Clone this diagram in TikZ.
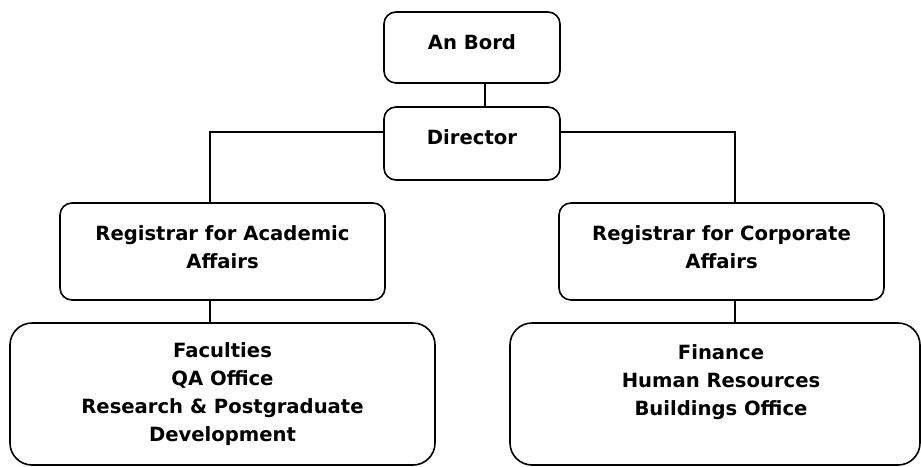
\documentclass[tikz,border=0pt]{standalone}
\usepackage{fontspec}
\setmainfont{DejaVu Sans}
\begin{document}
\begin{tikzpicture}[x=1pt,y={(0,-1pt)},
  box/.style={draw=black,line width=1.6pt,rounded corners=12pt,inner sep=0pt},
  bigbox/.style={draw=black,line width=1.6pt,rounded corners=22pt,inner sep=0pt},
  lbl/.style={align=center,inner sep=0pt,font=\bfseries\fontsize{19.6}{28}\selectfont},
  conn/.style={draw=black,line width=1.3pt}]
\useasboundingbox (0,0) rectangle (921,466);
% boxes
\node[box,minimum width=176pt,minimum height=71pt] (bord) at (472,47.5) {};
\node[box,minimum width=176pt,minimum height=73pt] (dir) at (472,143.5) {};
\node[box,minimum width=325pt,minimum height=97pt] (regA) at (222.5,251.5) {};
\node[box,minimum width=325pt,minimum height=97pt] (regC) at (721.5,251.5) {};
\node[bigbox,minimum width=425pt,minimum height=142pt] (fac) at (222.5,394) {};
\node[bigbox,minimum width=410pt,minimum height=142pt] (fin) at (715,394) {};
% texts
\node[lbl] (tbord) at (472,42) {An Bord};
\node[lbl] (tdir) at (472,137) {Director};
\node[lbl] (tregA) at (222.5,247) {Registrar for Academic\\Affairs};
\node[lbl] (tregC) at (721.5,247) {Registrar for Corporate\\Affairs};
\node[lbl,anchor=north] (tfac) at (222.5,342) {Faculties\\QA Office\\Research \& Postgraduate\\Development};
\node[lbl,anchor=north] (tfin) at (721,344) {Finance\\Human Resources\\Buildings Office};
% connector helpers
\coordinate (cx) at (485,0);
\coordinate (hy) at (0,132);
\coordinate (lx) at (210,0);
\coordinate (rx) at (735,0);
% connectors
\draw[conn] (bord.south -| cx) -- (dir.north -| cx);
\draw[conn] (dir.west |- hy) -| (regA.north -| lx);
\draw[conn] (dir.east |- hy) -| (regC.north -| rx);
\draw[conn] (regA.south -| lx) -- (fac.north -| lx);
\draw[conn] (regC.south -| rx) -- (fin.north -| rx);
\end{tikzpicture}
\end{document}
